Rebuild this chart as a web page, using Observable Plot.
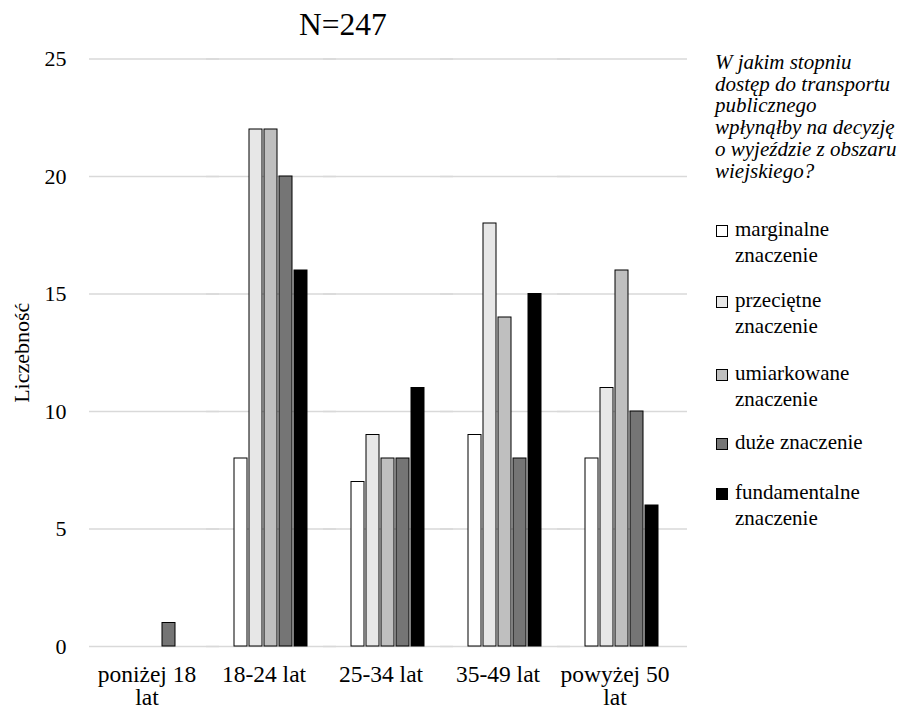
<!DOCTYPE html>
<html><head><meta charset="utf-8">
<script src="https://cdn.jsdelivr.net/npm/d3@7"></script>
<script src="https://cdn.jsdelivr.net/npm/@observablehq/plot@0.6"></script>
<style>
body{margin:0;background:#fff;font-family:'Liberation Serif',serif;color:#000;}
#wrap{position:relative;width:900px;height:712px;overflow:hidden;}
#chart{position:absolute;left:0;top:0;}
#title{position:absolute;left:0;width:686px;top:8.6px;text-align:center;font-size:31.5px;line-height:31.5px;}
#legtitle{position:absolute;left:715px;top:52px;width:185px;font-style:italic;font-size:21px;line-height:21.7px;white-space:nowrap;}
.item{position:absolute;left:716px;font-size:21px;line-height:25.7px;white-space:nowrap;}
.sw{position:absolute;left:0;top:8px;width:10px;height:10px;border:1px solid #000;}
.lab{margin-left:19px;}
</style></head>
<body>
<div id="wrap">
  <div id="chart"></div>
  <div id="title">N=247</div>
  <div id="legend"></div>
</div>
<script>
const categories = ["poniżej 18 lat", "18-24 lat", "25-34 lat", "35-49 lat", "powyżej 50 lat"];
const categoryLabels = ["poniżej 18\nlat", "18-24 lat", "25-34 lat", "35-49 lat", "powyżej 50\nlat"];
const series = ["marginalne znaczenie", "przeciętne znaczenie", "umiarkowane znaczenie", "duże znaczenie", "fundamentalne znaczenie"];
const legendLines = [["marginalne", "znaczenie"], ["przeciętne", "znaczenie"], ["umiarkowane", "znaczenie"], ["duże znaczenie"], ["fundamentalne", "znaczenie"]];
const marginalne = [0, 8, 7, 9, 8];
const przecietne = [0, 22, 9, 18, 11];
const umiarkowane = [0, 22, 8, 14, 16];
const duze = [1, 20, 8, 8, 10];
const fundamentalne = [0, 16, 11, 15, 6];
const colors = ["#ffffff", "#e7e7e7", "#bfbfbf", "#757575", "#000000"];
const yTicks = [0, 5, 10, 15, 20, 25];
const legendTitle = "W jakim stopniu\ndostęp do transportu\npublicznego\nwpłynąłby na decyzję\no wyjeździe z obszaru\nwiejskiego?";

const seriesValues = [marginalne, przecietne, umiarkowane, duze, fundamentalne];
const data = [];
categories.forEach((c, i) => series.forEach((s, j) => {
  if (seriesValues[j][i] > 0) data.push({category: c, series: s, value: seriesValues[j][i]});
}));

const chart = Plot.plot({
  width: 900, height: 712,
  marginLeft: 93, marginRight: 219, marginTop: 58.5, marginBottom: 66,
  style: {fontFamily: "'Liberation Serif', serif", fontSize: "22px", background: "transparent", color: "#000"},
  fx: {domain: categories, padding: 0},
  x: {domain: series, paddingInner: 0.16, paddingOuter: 1.37},
  y: {domain: [0, 25]},
  color: {domain: series, range: colors},
  marks: [
    Plot.ruleY(yTicks, {stroke: "#d9d9d9", strokeWidth: 1.3, insetLeft: -6, insetRight: -7}),
    Plot.barY(data, {fx: "category", x: "series", y: "value", fill: "series", stroke: "#000", strokeWidth: 1}),
    Plot.axisY({ticks: yTicks, tickSize: 0, tickPadding: 29, fontSize: 22, label: "Liczebność", labelAnchor: "center", labelArrow: "none", labelOffset: 82}),
    Plot.axisX({ticks: [], label: null}),
    Plot.axisFx({anchor: "bottom", tickSize: 0, tickPadding: 18.5, fontSize: 23.5, dx: -7, label: null, lineHeight: 1.0,
      tickFormat: d => categoryLabels[categories.indexOf(d)]})
  ]
});
document.getElementById("chart").appendChild(chart);

const leg = document.getElementById("legend");
const lt = document.createElement("div");
lt.id = "legtitle";
lt.innerHTML = legendTitle.split("\n").join("<br>");
leg.appendChild(lt);
const itemTops = [217, 288, 361, 430, 480];
series.forEach((s, j) => {
  const it = document.createElement("div");
  it.className = "item";
  it.style.top = itemTops[j] + "px";
  const sw = document.createElement("div");
  sw.className = "sw";
  sw.style.background = colors[j];
  it.appendChild(sw);
  const lab = document.createElement("div");
  lab.className = "lab";
  lab.innerHTML = legendLines[j].join("<br>");
  it.appendChild(lab);
  leg.appendChild(it);
});
</script>
</body></html>
